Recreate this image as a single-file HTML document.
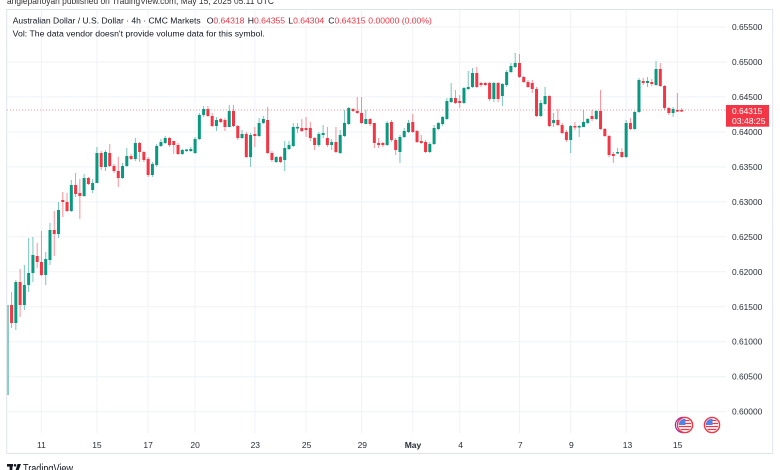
<!DOCTYPE html>
<html><head><meta charset="utf-8"><style>
html,body{margin:0;padding:0;background:#fff;}
svg{display:block;font-family:"Liberation Sans",Arial,sans-serif;}
</style></head><body>
<svg width="780" height="470" viewBox="0 0 780 470" xmlns="http://www.w3.org/2000/svg">
<rect width="780" height="470" fill="#fff"/>
<!-- header -->
<text x="7" y="3.8" font-size="9" fill="#333" textLength="267" lengthAdjust="spacingAndGlyphs">anglepanoyan published on TradingView.com, May 15, 2025 05:11 UTC</text>
<!-- frame -->
<rect x="6.7" y="9.5" width="766" height="444" fill="none" stroke="#e0e3eb" stroke-width="1"/>
<!-- grid -->
<g stroke="#f0f2f6" stroke-width="1">
<path d="M7 27H726M7 62H726M7 96.9H726M7 131.9H726M7 166.9H726M7 201.9H726M7 236.8H726M7 271.8H726M7 306.8H726M7 341.7H726M7 376.7H726M7 411.7H726"/>
<path d="M41.44 10V433M96.93 10V433M148.14 10V433M195.09 10V433M254.84 10V433M306.06 10V433M361.54 10V433M412.76 10V433M459.71 10V433M519.46 10V433M570.68 10V433M626.16 10V433M677.38 10V433"/>
</g>
<!-- legend -->
<text x="12.7" y="23.7" font-size="8.6" fill="#131722" textLength="188" lengthAdjust="spacingAndGlyphs">Australian Dollar / U.S. Dollar · 4h · CMC Markets</text>
<g font-size="8.6">
<text x="206.7" y="23.7" fill="#131722">O<tspan fill="#f23645">0.64318</tspan></text>
<text x="247.8" y="23.7" fill="#131722">H<tspan fill="#f23645">0.64355</tspan></text>
<text x="288.3" y="23.7" fill="#131722">L<tspan fill="#f23645">0.64304</tspan></text>
<text x="328.3" y="23.7" fill="#131722">C<tspan fill="#f23645">0.64315</tspan></text>
<text x="368.3" y="23.7" fill="#f23645">0.00000 (0.00%)</text>
</g>
<text x="12.7" y="36.5" font-size="8.6" fill="#131722" textLength="252" lengthAdjust="spacingAndGlyphs">Vol: The data vendor doesn't provide volume data for this symbol.</text>

<!-- current price line -->
<path d="M7 110H726" stroke="#f23645" stroke-opacity="0.7" stroke-width="0.8" stroke-dasharray="1 2"/>

<!-- wicks -->
<path stroke="#089981" stroke-opacity="0.55" stroke-width="1" fill="none" d="M15.84 280V330M24.37 265V310M28.64 238V292M32.91 237V282M45.71 252V285M49.98 223V265M58.52 202V238M71.32 180V212M84.12 174V197M92.66 179V193M96.93 147V183M105.46 150V171M122.54 163V179M126.8 148V167M135.34 138V161M152.41 162V177M156.68 144V167M160.95 139V147M165.22 136V144M182.29 149V155M186.56 149V152M190.82 147V152M195.09 137V154M199.36 113V140M203.63 106V117M216.43 117V131M229.24 105V127M242.04 130V139M250.58 133V167M259.11 118V137M263.38 116V124M276.18 156V163M284.72 141V171M288.99 141V150M293.26 123V147M297.52 123V133M318.86 132V147M323.13 125V138M331.67 139V150M340.2 130V154M344.47 110V137M348.74 107V125M365.81 110V124M387.15 121V146M399.96 135V163M404.22 128V138M408.49 120V133M429.83 142V153M434.1 125V145M438.37 122V130M442.64 116V126M446.9 98V120M451.17 83V103M463.98 87V104M468.24 71V90M472.51 68V88M493.85 82V102M502.39 83V106M506.66 70V87M510.92 63V73M515.19 53V68M540.8 100V117M545.07 87V105M553.6 113V127M570.68 125V153M579.21 125V137M583.48 110V127M587.75 118V124M596.28 110V120M617.62 148V154M626.16 120V158M634.7 111V130M638.96 78V113M647.5 77V87M656.04 61V86M673.11 107V117"/>
<path stroke="#f23645" stroke-opacity="0.55" stroke-width="1" fill="none" d="M11.57 292V328M20.1 269V317M37.18 243V268M41.44 231V276M54.25 211V256M62.78 192V217M67.05 193V212M75.59 173V197M79.86 179V219M88.39 177V185M101.2 151V170M109.73 144V167M114 164V173M118.27 157V187M131.07 154V160M139.61 142V162M143.88 151V162M148.14 157V177M169.48 137V147M173.75 141V154M178.02 143V155M207.9 106V117M212.16 113V127M220.7 118V123M224.97 118V131M233.5 105V127M237.77 125V140M246.31 132V158M254.84 127V147M267.65 107V154M271.92 151V162M280.45 156V163M301.79 119V132M306.06 117V137M310.33 122V141M314.6 137V150M327.4 127V147M335.94 127V153M353.01 108V112M357.28 97V114M361.54 97V124M370.08 118V126M374.35 123V148M378.62 138V148M382.88 142V147M391.42 120V142M395.69 138V155M412.76 114V133M417.03 130V143M421.3 135V144M425.56 140V153M455.44 90V104M459.71 95V108M476.78 67V88M481.05 82V87M485.32 82V86M489.58 82V101M498.12 82V102M519.46 54V78M523.73 76V83M528 80V88M532.26 80V93M536.53 87V117M549.34 95V127M557.87 109V126M562.14 123V134M566.41 130V142M574.94 122V130M592.02 110V121M600.55 90V130M604.82 128V137M609.09 135V157M613.36 152V163M621.89 148V158M630.43 118V130M643.23 78V85M651.77 79V86M660.3 63V87M664.57 85V110M668.84 107V115M677.38 93V112M681.64 108V112"/>

<!-- first (clipped) candle -->
<rect x="7.3" y="305" width="1.5" height="90" fill="#089981" fill-opacity="0.6"/>
<!-- teal bodies -->
<g fill="#089981">
<rect x="14.34" y="282" width="3" height="41"/>
<rect x="22.87" y="285" width="3" height="20"/>
<rect x="27.14" y="273" width="3" height="12"/>
<rect x="31.41" y="255" width="3" height="18"/>
<rect x="44.21" y="259" width="3" height="16"/>
<rect x="48.48" y="230" width="3" height="30"/>
<rect x="57.02" y="210" width="3" height="24"/>
<rect x="69.82" y="185" width="3" height="26"/>
<rect x="82.62" y="178" width="3" height="18"/>
<rect x="91.16" y="183" width="3" height="7"/>
<rect x="95.43" y="153" width="3" height="30"/>
<rect x="103.96" y="152" width="3" height="15"/>
<rect x="121.04" y="166" width="3" height="12"/>
<rect x="125.3" y="156" width="3" height="10"/>
<rect x="133.84" y="143" width="3" height="16"/>
<rect x="150.91" y="164" width="3" height="11"/>
<rect x="155.18" y="146" width="3" height="19"/>
<rect x="159.45" y="142" width="3" height="4"/>
<rect x="163.72" y="138" width="3" height="5"/>
<rect x="180.79" y="150" width="3" height="4"/>
<rect x="185.06" y="149.5" width="3" height="1.5"/>
<rect x="189.32" y="149" width="3" height="2"/>
<rect x="193.59" y="139" width="3" height="14"/>
<rect x="197.86" y="115" width="3" height="24"/>
<rect x="202.13" y="109" width="3" height="6"/>
<rect x="214.93" y="120" width="3" height="6"/>
<rect x="227.74" y="111" width="3" height="16"/>
<rect x="240.54" y="134" width="3" height="4"/>
<rect x="249.08" y="135" width="3" height="22"/>
<rect x="257.61" y="123" width="3" height="13"/>
<rect x="261.88" y="119" width="3" height="4"/>
<rect x="274.68" y="157" width="3" height="5"/>
<rect x="283.22" y="148" width="3" height="12"/>
<rect x="287.49" y="145" width="3" height="4"/>
<rect x="291.76" y="127" width="3" height="19"/>
<rect x="296.02" y="127" width="3" height="1.5"/>
<rect x="317.36" y="134" width="3" height="11"/>
<rect x="321.63" y="133" width="3" height="2"/>
<rect x="330.17" y="142" width="3" height="3"/>
<rect x="338.7" y="135" width="3" height="18"/>
<rect x="342.97" y="123" width="3" height="13"/>
<rect x="347.24" y="108" width="3" height="16"/>
<rect x="364.31" y="119" width="3" height="5"/>
<rect x="385.65" y="123" width="3" height="22"/>
<rect x="398.46" y="137" width="3" height="15"/>
<rect x="402.72" y="131" width="3" height="6"/>
<rect x="406.99" y="123" width="3" height="9"/>
<rect x="428.33" y="144" width="3" height="8"/>
<rect x="432.6" y="128" width="3" height="16"/>
<rect x="436.87" y="123" width="3" height="6"/>
<rect x="441.14" y="117" width="3" height="7"/>
<rect x="445.4" y="101" width="3" height="18"/>
<rect x="449.67" y="98" width="3" height="4"/>
<rect x="462.48" y="88" width="3" height="15"/>
<rect x="466.74" y="87" width="3" height="2"/>
<rect x="471.01" y="73" width="3" height="14"/>
<rect x="492.35" y="83" width="3" height="16"/>
<rect x="500.89" y="84" width="3" height="12"/>
<rect x="505.16" y="72" width="3" height="13"/>
<rect x="509.42" y="66" width="3" height="6"/>
<rect x="513.69" y="63" width="3" height="4"/>
<rect x="539.3" y="103" width="3" height="13"/>
<rect x="543.57" y="96" width="3" height="8"/>
<rect x="552.1" y="120" width="3" height="3"/>
<rect x="569.18" y="126" width="3" height="14"/>
<rect x="577.71" y="126" width="3" height="1.5"/>
<rect x="581.98" y="122" width="3" height="5"/>
<rect x="586.25" y="119" width="3" height="4"/>
<rect x="594.78" y="111" width="3" height="8"/>
<rect x="616.12" y="152" width="3" height="1.5"/>
<rect x="624.66" y="123" width="3" height="34"/>
<rect x="633.2" y="112" width="3" height="17"/>
<rect x="637.46" y="80" width="3" height="32"/>
<rect x="646" y="81" width="3" height="2"/>
<rect x="654.54" y="69" width="3" height="16"/>
<rect x="671.61" y="109" width="3" height="4"/>
</g>
<!-- red bodies -->
<g fill="#f23645">
<rect x="10.07" y="305" width="3" height="18"/>
<rect x="18.6" y="282" width="3" height="23"/>
<rect x="35.68" y="256" width="3" height="6"/>
<rect x="39.94" y="262" width="3" height="13"/>
<rect x="52.75" y="230" width="3" height="4"/>
<rect x="61.28" y="200" width="3" height="2"/>
<rect x="65.55" y="202" width="3" height="9"/>
<rect x="74.09" y="185" width="3" height="9"/>
<rect x="78.36" y="193" width="3" height="3"/>
<rect x="86.89" y="178" width="3" height="6"/>
<rect x="99.7" y="153" width="3" height="14"/>
<rect x="108.23" y="153" width="3" height="13"/>
<rect x="112.5" y="166" width="3" height="5"/>
<rect x="116.77" y="171" width="3" height="7"/>
<rect x="129.57" y="156" width="3" height="3"/>
<rect x="138.11" y="143" width="3" height="9"/>
<rect x="142.38" y="152" width="3" height="8"/>
<rect x="146.64" y="159" width="3" height="16"/>
<rect x="167.98" y="138" width="3" height="7"/>
<rect x="172.25" y="141" width="3" height="4"/>
<rect x="176.52" y="145" width="3" height="9"/>
<rect x="206.4" y="109" width="3" height="7"/>
<rect x="210.66" y="116" width="3" height="10"/>
<rect x="219.2" y="119" width="3" height="3"/>
<rect x="223.47" y="120" width="3" height="7"/>
<rect x="232" y="111" width="3" height="15"/>
<rect x="236.27" y="126" width="3" height="12"/>
<rect x="244.81" y="134" width="3" height="23"/>
<rect x="253.34" y="134" width="3" height="2"/>
<rect x="266.15" y="120" width="3" height="33"/>
<rect x="270.42" y="153" width="3" height="7"/>
<rect x="278.95" y="157" width="3" height="5"/>
<rect x="300.29" y="128" width="3" height="3"/>
<rect x="304.56" y="128" width="3" height="2"/>
<rect x="308.83" y="128" width="3" height="10"/>
<rect x="313.1" y="138" width="3" height="7"/>
<rect x="325.9" y="138" width="3" height="7"/>
<rect x="334.44" y="142" width="3" height="10"/>
<rect x="351.51" y="109" width="3" height="2"/>
<rect x="355.78" y="111" width="3" height="2"/>
<rect x="360.04" y="113" width="3" height="10"/>
<rect x="368.58" y="119" width="3" height="5"/>
<rect x="372.85" y="123" width="3" height="20"/>
<rect x="377.12" y="143" width="3" height="2"/>
<rect x="381.38" y="143" width="3" height="2"/>
<rect x="389.92" y="122" width="3" height="18"/>
<rect x="394.19" y="140" width="3" height="10"/>
<rect x="411.26" y="122" width="3" height="10"/>
<rect x="415.53" y="131" width="3" height="11"/>
<rect x="419.8" y="141" width="3" height="2"/>
<rect x="424.06" y="142" width="3" height="10"/>
<rect x="453.94" y="98" width="3" height="5"/>
<rect x="458.21" y="101" width="3" height="2"/>
<rect x="475.28" y="73" width="3" height="14"/>
<rect x="479.55" y="83" width="3" height="2"/>
<rect x="483.82" y="83" width="3" height="2"/>
<rect x="488.08" y="83" width="3" height="16"/>
<rect x="496.62" y="83" width="3" height="16"/>
<rect x="517.96" y="63" width="3" height="14"/>
<rect x="522.23" y="77" width="3" height="5"/>
<rect x="526.5" y="82" width="3" height="5"/>
<rect x="530.76" y="83" width="3" height="6"/>
<rect x="535.03" y="89" width="3" height="27"/>
<rect x="547.84" y="96" width="3" height="30"/>
<rect x="556.37" y="120" width="3" height="5"/>
<rect x="560.64" y="125" width="3" height="8"/>
<rect x="564.91" y="132" width="3" height="8"/>
<rect x="573.44" y="126" width="3" height="1.5"/>
<rect x="590.52" y="116" width="3" height="3"/>
<rect x="599.05" y="111" width="3" height="18"/>
<rect x="603.32" y="129" width="3" height="7"/>
<rect x="607.59" y="136" width="3" height="19"/>
<rect x="611.86" y="154" width="3" height="2"/>
<rect x="620.39" y="152" width="3" height="5"/>
<rect x="628.93" y="123" width="3" height="6"/>
<rect x="641.73" y="81" width="3" height="2"/>
<rect x="650.27" y="82" width="3" height="2"/>
<rect x="658.8" y="69" width="3" height="17"/>
<rect x="663.07" y="86" width="3" height="22"/>
<rect x="667.34" y="108" width="3" height="5"/>
<rect x="675.88" y="110" width="3" height="1.5"/>
<rect x="680.14" y="110" width="3" height="1.5"/>
</g>

<!-- price axis labels -->
<g font-size="8.5" fill="#2a2e39">
<text x="732" y="30" textLength="30.3" lengthAdjust="spacingAndGlyphs">0.65500</text>
<text x="732" y="65" textLength="30.3" lengthAdjust="spacingAndGlyphs">0.65000</text>
<text x="732" y="99.9" textLength="30.3" lengthAdjust="spacingAndGlyphs">0.64500</text>
<text x="732" y="134.9" textLength="30.3" lengthAdjust="spacingAndGlyphs">0.64000</text>
<text x="732" y="169.9" textLength="30.3" lengthAdjust="spacingAndGlyphs">0.63500</text>
<text x="732" y="204.9" textLength="30.3" lengthAdjust="spacingAndGlyphs">0.63000</text>
<text x="732" y="239.8" textLength="30.3" lengthAdjust="spacingAndGlyphs">0.62500</text>
<text x="732" y="274.8" textLength="30.3" lengthAdjust="spacingAndGlyphs">0.62000</text>
<text x="732" y="309.8" textLength="30.3" lengthAdjust="spacingAndGlyphs">0.61500</text>
<text x="732" y="344.7" textLength="30.3" lengthAdjust="spacingAndGlyphs">0.61000</text>
<text x="732" y="379.7" textLength="30.3" lengthAdjust="spacingAndGlyphs">0.60500</text>
<text x="732" y="414.7" textLength="30.3" lengthAdjust="spacingAndGlyphs">0.60000</text>
</g>
<!-- current price box -->
<rect x="726" y="105" width="43" height="21.7" fill="#f23645"/>
<text x="732" y="113.8" font-size="8.5" fill="#fff" textLength="30.3" lengthAdjust="spacingAndGlyphs">0.64315</text>
<text x="732" y="123.8" font-size="8.5" fill="#fff" textLength="33.5" lengthAdjust="spacingAndGlyphs">03:48:25</text>

<!-- date labels -->
<g font-size="8.5" fill="#2a2e39" text-anchor="middle">
<text x="41.44" y="448">11</text>
<text x="96.93" y="448">15</text>
<text x="148.14" y="448">17</text>
<text x="195.09" y="448">20</text>
<text x="255.3" y="448">23</text>
<text x="306.6" y="448">25</text>
<text x="362.3" y="448">29</text>
<text x="413" y="448" font-weight="bold">May</text>
<text x="460.6" y="448">4</text>
<text x="520.3" y="448">7</text>
<text x="571.4" y="448">9</text>
<text x="627.5" y="448">13</text>
<text x="677.6" y="448">15</text>
</g>

<!-- event flags -->
<defs>
<clipPath id="c1"><circle cx="685" cy="425" r="6.3"/></clipPath>
<clipPath id="c2"><circle cx="712" cy="425" r="6.3"/></clipPath>
</defs>
<circle cx="683" cy="425" r="7.6" fill="#fff" stroke="#9c27b0" stroke-width="1.2"/>
<circle cx="685" cy="425" r="7.6" fill="#fff" stroke="#f23645" stroke-width="1.4"/>
<g clip-path="url(#c1)">
<rect x="678" y="418" width="14" height="14" fill="#fff"/>
<path d="M678 420.5H692M678 423.5H692M678 426.5H692M678 429.5H692" stroke="#f23645" stroke-width="1.3"/>
<rect x="678" y="418" width="7.5" height="7" fill="#4d86e8"/>
</g>
<circle cx="712" cy="425" r="7.6" fill="#fff" stroke="#f23645" stroke-width="1.4"/>
<g clip-path="url(#c2)">
<rect x="705" y="418" width="14" height="14" fill="#fff"/>
<path d="M705 420.5H719M705 423.5H719M705 426.5H719M705 429.5H719" stroke="#f23645" stroke-width="1.3"/>
<rect x="705" y="418" width="7.5" height="7" fill="#4d86e8"/>
</g>

<!-- TradingView logo -->
<g fill="#131722">
<rect x="7" y="464" width="6" height="2.6"/>
<rect x="9.6" y="464" width="2.8" height="8"/>
<circle cx="15" cy="465.3" r="1.3"/>
<path d="M17.5 464H21L18 472H15Z"/>
</g>
<text x="23" y="472.6" font-size="11.5" fill="#131722" textLength="50" lengthAdjust="spacingAndGlyphs">TradingView</text>
</svg>
</body></html>
